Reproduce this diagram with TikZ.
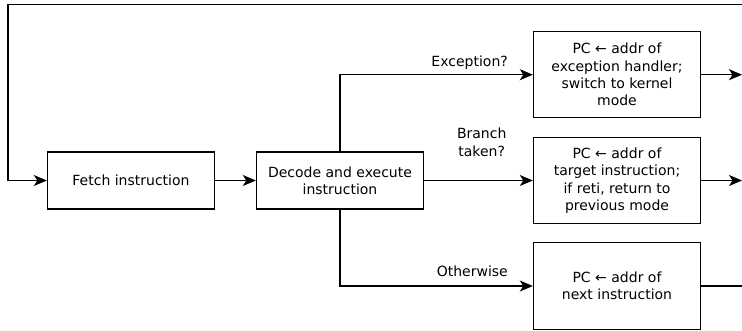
\documentclass[tikz,border=0pt]{standalone}
\usepackage{fontspec}
\setmainfont{DejaVu Sans}
\usetikzlibrary{arrows.meta}
\begin{document}
\begin{tikzpicture}[x=1pt,y=-1pt,
  every node/.style={font=\fontsize{14}{17.3}\selectfont},
  box/.style={draw, line width=1.4pt, align=center, inner sep=0pt,
              minimum width=167pt},
  flow/.style={draw, line width=1.1pt,
               -{Stealth[length=13pt,width=11pt,inset=3.5pt]}},
  plain/.style={draw, line width=1.1pt},
  lbl/.style={inner sep=0pt, align=center}]
\useasboundingbox (0,0) rectangle (742,330);

% processing steps
\node[box, minimum height=57pt] (fetch) at (131,180.5) {Fetch instruction};
\node[box, minimum height=57pt] (decode) at (340,180.5) {Decode and execute\\instruction};
\node[box, minimum height=86pt] (exc) at (617,74.7)
  {PC ← addr of\\exception handler;\\switch to kernel\\mode};
\node[box, minimum height=86pt] (tgt) at (617,180.5)
  {PC ← addr of\\target instruction;\\if reti, return to\\previous mode};
\node[box, minimum height=86.6pt] (nxt) at (617,286)
  {PC ← addr of\\next instruction};

% loose ends on the right and the return loop
\coordinate (excout) at (742,74.7);
\coordinate (tgtout) at (742,180.5);
\coordinate (nxtout) at (742,286);
\coordinate (loopR) at (742,4.3);
\coordinate (loopL) at (8,4.3);

\path[flow] (loopR) -- (loopL) |- (fetch.west);
\path[flow] (fetch) -- (decode);
\path[flow] (decode.north) |- (exc.west);
\path[flow] (decode) -- (tgt);
\path[flow] (decode.south) |- (nxt.west);
\path[flow] (exc) -- (excout);
\path[flow] (tgt) -- (tgtout);
\path[plain] (nxt) -- (nxtout);

% branch conditions
\node[lbl, anchor=base east] (lexc) at (508,66.9) {Exception?};
\node[lbl, anchor=base] (lbr) at (481.7,156.2) {Branch\\taken?};
\node[lbl, anchor=base east] (loth) at (508,276.9) {Otherwise};
\end{tikzpicture}
\end{document}
